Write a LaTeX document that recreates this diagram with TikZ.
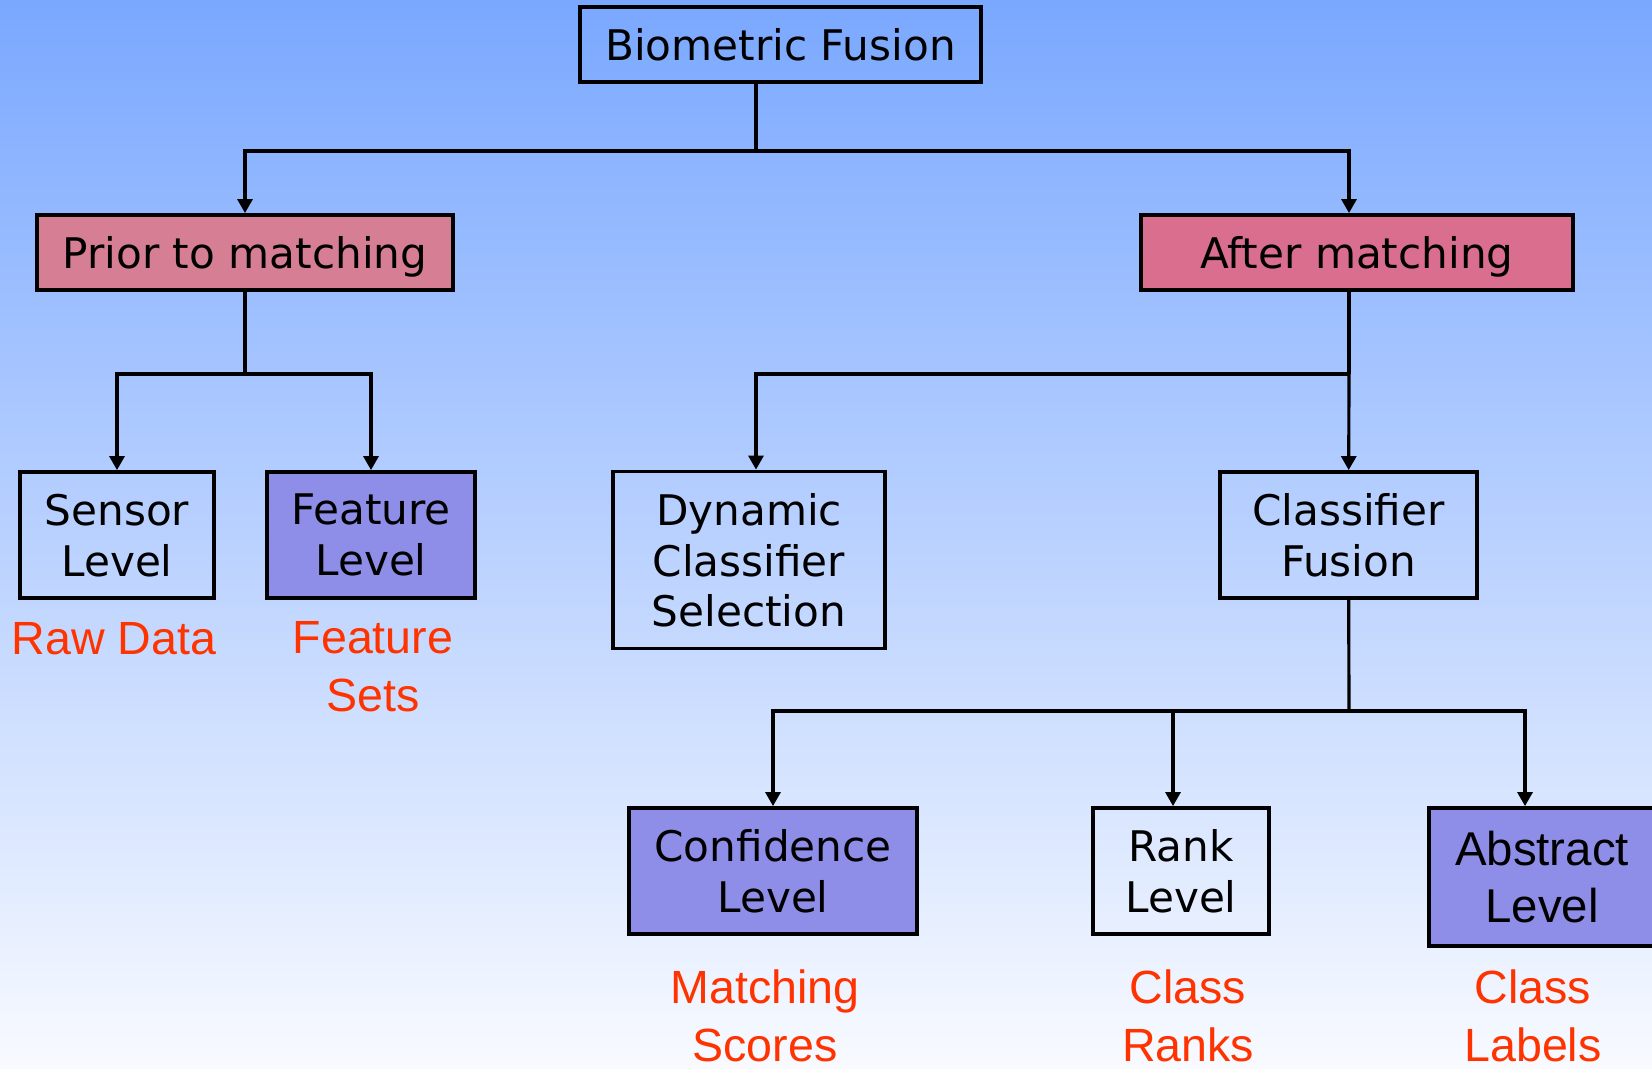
\documentclass[tikz,border=0pt]{standalone}
\usepackage{fontspec}
\setmainfont{DejaVu Sans}
\newfontfamily\arialfont{Liberation Sans}
\usetikzlibrary{arrows.meta}
\definecolor{bgtop}{HTML}{7AA8FF}
\definecolor{bgbot}{HTML}{F8FAFF}
\definecolor{redfill}{HTML}{D57E94}
\definecolor{redfillb}{HTML}{DA6E8E}
\definecolor{bluefill}{HTML}{8E8EE8}
\definecolor{tagred}{HTML}{FF3300}

\begin{document}
\begin{tikzpicture}
  [
    x=0.02cm, y=-0.02cm,
    box/.style={draw=black, line width=2.2pt, align=center, inner sep=0pt, text depth=0pt,
      font=\fontsize{24}{29}\selectfont},
    tag/.style={text=tagred, align=center, font=\arialfont\fontsize{26.5}{33}\selectfont},
    wire/.style={line width=1.8pt},
    arr/.style={wire, -{Triangle[width=0.3cm,length=0.28cm]}}
  ]
  % background
  \useasboundingbox (0,0) rectangle (1652,1068);
  \shade[top color=bgtop, bottom color=bgbot] (0,0) rectangle (1652,1068);
  % top
  \node [box, minimum width=8.02cm, minimum height=1.5cm] (fusion) at (780.5,44.5) {Biometric Fusion};
  \node [box, fill=redfill, minimum width=8.32cm, minimum height=1.5cm] (prior) at (245,252.5) {Prior to matching};
  \node [box, fill=redfillb, minimum width=8.64cm, minimum height=1.5cm] (after) at (1357,252.5) {After matching};
  % prior to matching
  \node [box, minimum width=3.88cm, minimum height=2.52cm] (sensor) at (117,535) {Sensor\\Level};
  \node [box, fill=bluefill, minimum width=4.16cm, minimum height=2.52cm] (feature) at (371,535) {Feature\\Level};
  % after matching
  \node [box, minimum width=5.44cm, minimum height=3.54cm] (dcs) at (749,560) {Dynamic\\Classifier\\Selection};
  \node [box, minimum width=5.14cm, minimum height=2.52cm] (cfusion) at (1348.5,535) {Classifier\\Fusion};
  % classifier fusion
  \node [box, fill=bluefill, minimum width=5.76cm, minimum height=2.52cm] (conf) at (773,871) {Confidence\\Level};
  \node [box, minimum width=3.52cm, minimum height=2.52cm] (rank) at (1181,871) {Rank\\Level};
  \node [box, fill=bluefill, minimum width=4.52cm, minimum height=2.76cm,
    font=\arialfont\fontsize{27}{32.5}\selectfont] (abstract) at (1542,877) {Abstract\\Level};
  % labels
  \node [tag] (raw) at (114,639) {Raw Data};
  \node [tag] (fsets) at (373,667) {Feature\\Sets};
  \node [tag] (mscores) at (765,1016) {Matching\\Scores};
  \node [tag] (cranks) at (1188,1016) {Class\\Ranks};
  \node [tag] (clabels) at (1533,1016) {Class\\Labels};
  % junctions
  \coordinate (jtop) at (756,151);
  \coordinate (jpri) at (245,374);
  \coordinate (jaft) at (1349,374);
  \coordinate (jcf) at (1349,711);
  \coordinate (jrk) at (1173,711);
  \coordinate (jab) at (1525,711);
  % edges
  \draw [wire] (fusion.south -| jtop) -- (jtop);
  \draw [arr] (jtop) -| (prior);
  \draw [arr] (jtop) -| (after.north -| jaft);
  \draw [wire] (prior) -- (jpri);
  \draw [arr] (jpri) -| (sensor);
  \draw [arr] (jpri) -| (feature);
  \draw [wire] (after.south -| jaft) -- (jaft);
  \draw [arr] (jaft) -| (dcs.north -| jtop);
  \draw [arr] (jaft) -- (cfusion);
  \draw [wire] (cfusion) -- (jcf);
  \draw [arr] (jcf) -| (conf);
  \draw [arr] (jrk) -- (jrk |- rank.north);
  \draw [arr] (jcf) -- (jab) -- (jab |- abstract.north);
\end{tikzpicture}
\end{document}
